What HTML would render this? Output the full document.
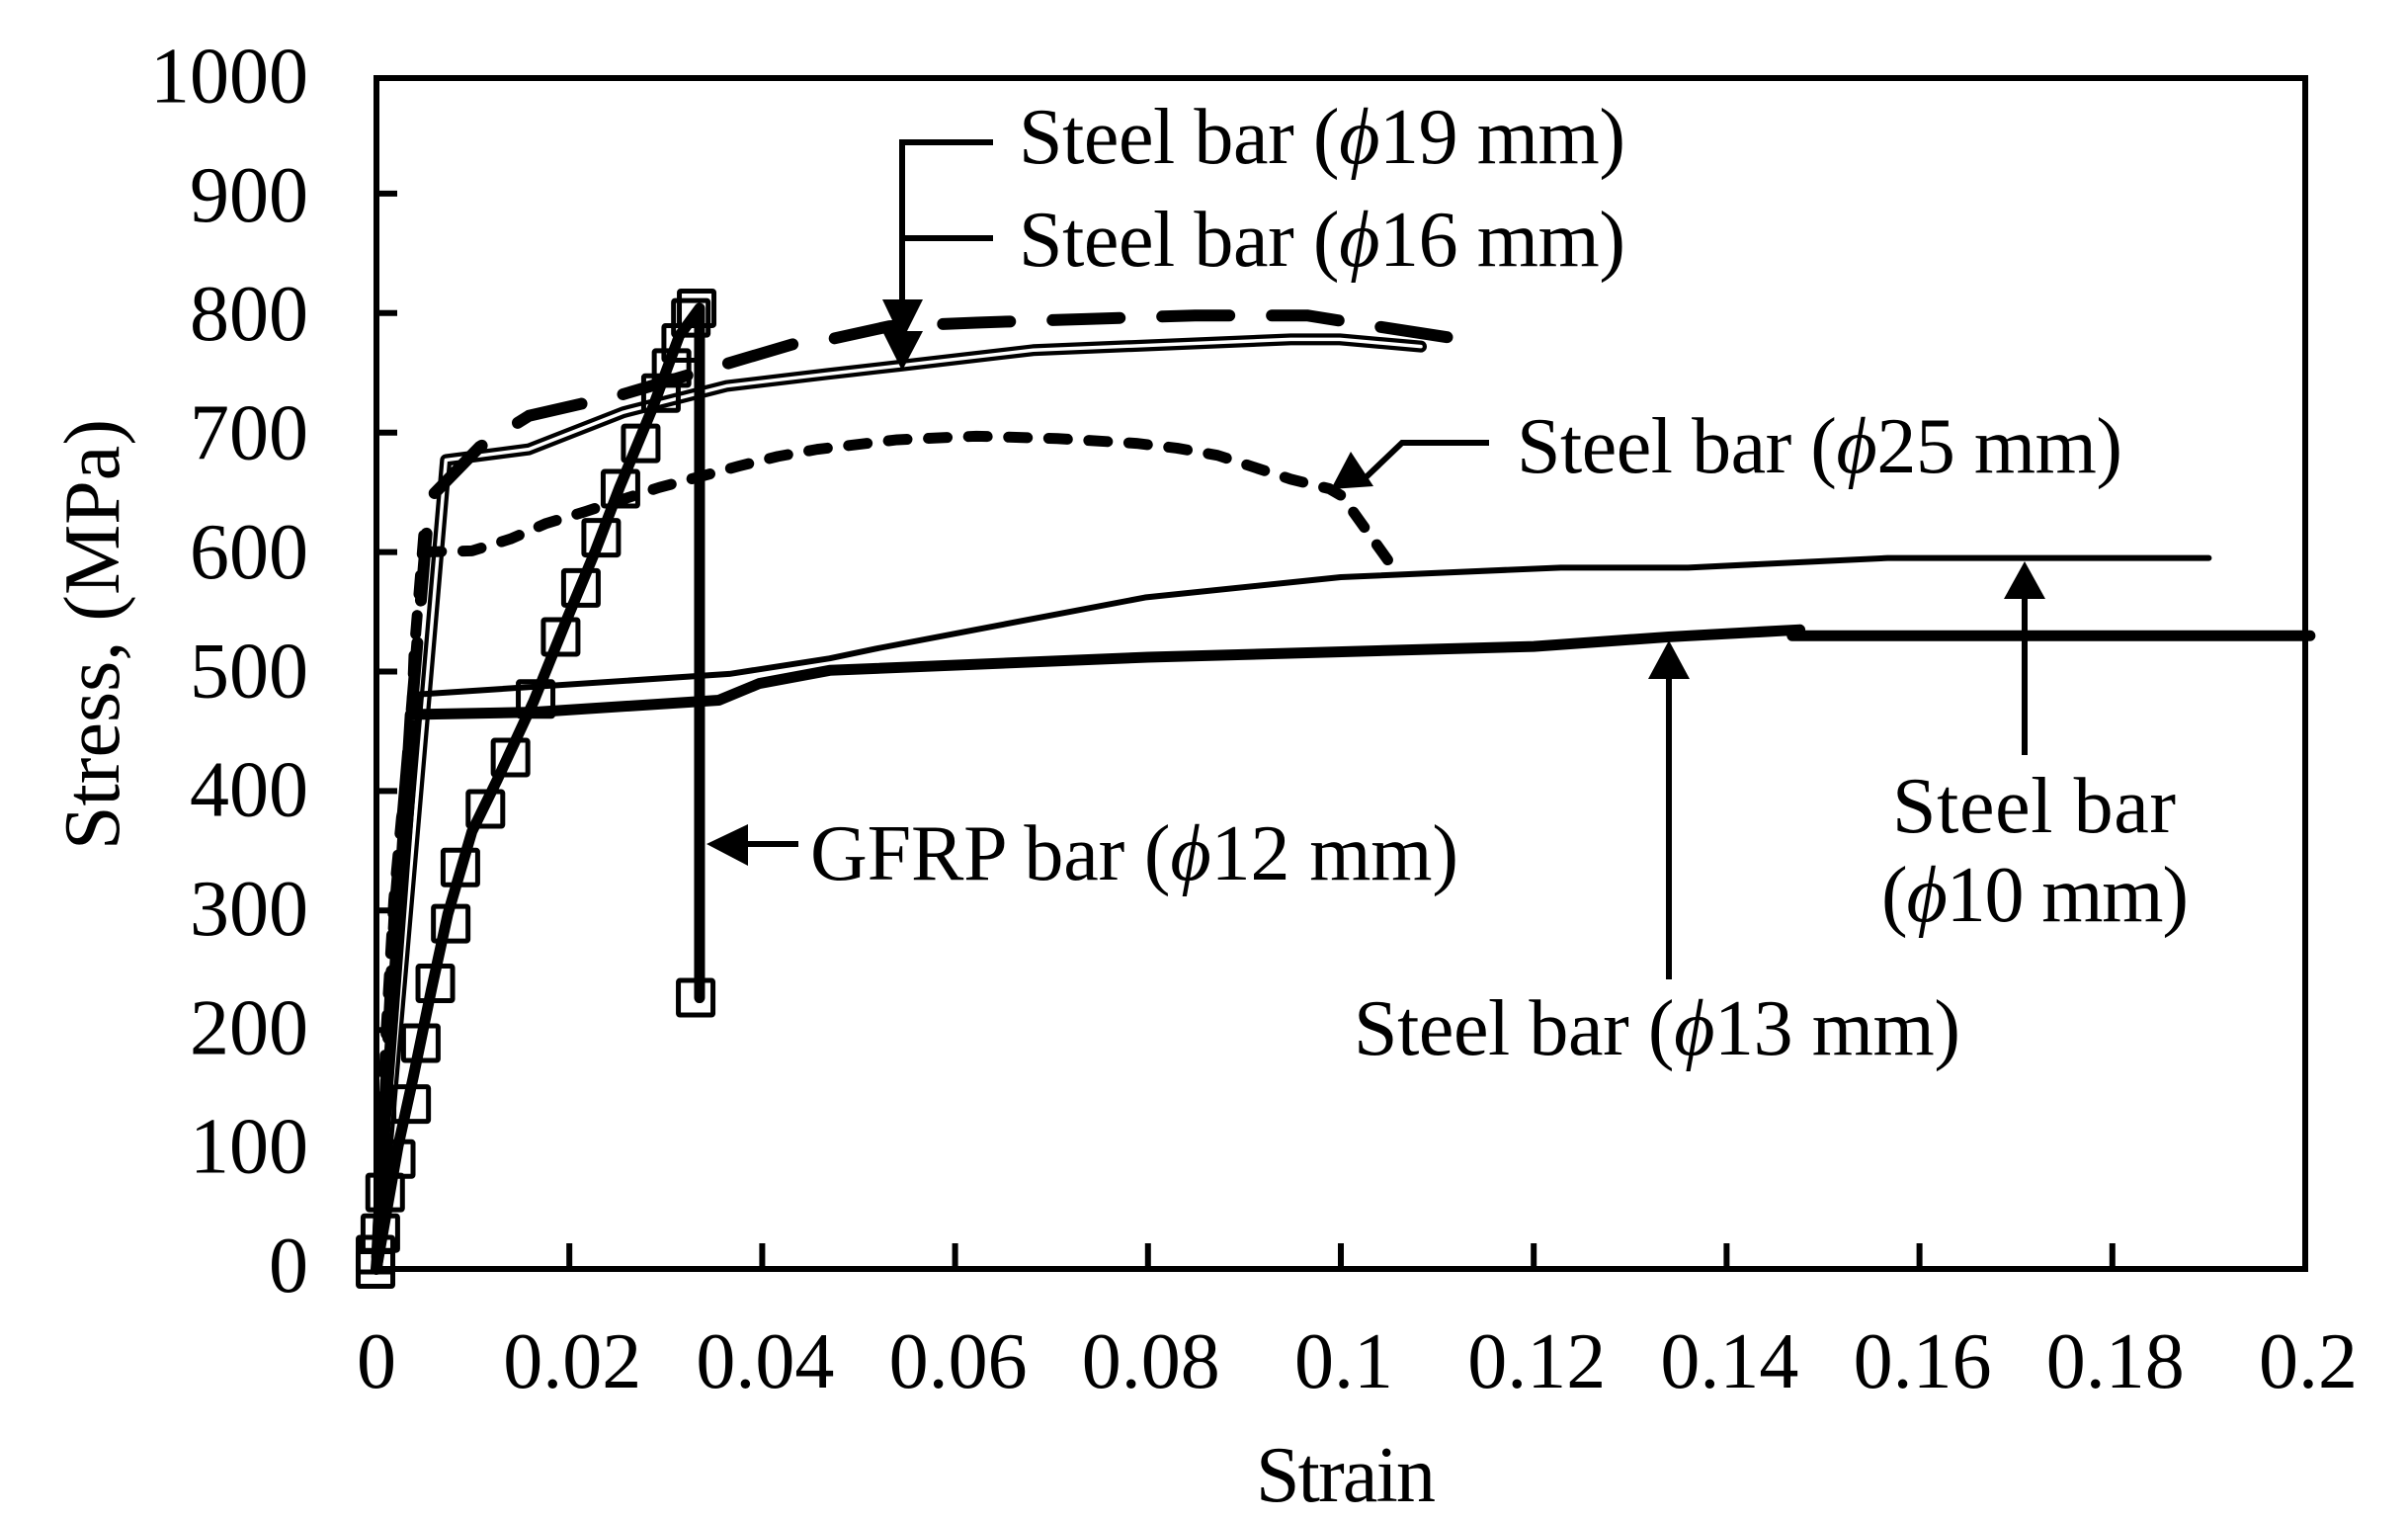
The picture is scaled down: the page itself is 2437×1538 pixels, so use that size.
<!DOCTYPE html>
<html lang="en">
<head>
<meta charset="utf-8">
<title>Stress-strain curves of steel and GFRP bars</title>
<style>
html,body{margin:0;padding:0;background:#fff;}
svg{display:block;}
text{font-family:"Liberation Serif","DejaVu Serif",serif;fill:#000;}
</style>
</head>
<body>
<svg id="chart" xmlns="http://www.w3.org/2000/svg" width="2437" height="1538" viewBox="0 0 2437 1538">
  <rect x="0" y="0" width="2437" height="1538" fill="#fff"/>
  <g id="series"></g>
  <rect x="381" y="79" width="1952" height="1205" fill="none" stroke="#000" stroke-width="6"/>
  <g id="axes"></g>

  <text x="1271" y="1519" font-size="80" textLength="182" lengthAdjust="spacing">Strain</text>
  <text transform="translate(120,860) rotate(-90)" x="0" y="0" font-size="80" textLength="436" lengthAdjust="spacing">Stress, (MPa)</text>

  <g>
    <path d="M1005 144 H913 V310" fill="none" stroke="#000" stroke-width="6"/>
    <polygon points="893,303 934,303 913,345" fill="#000"/>
    <text x="1031" y="165" font-size="80" textLength="614" lengthAdjust="spacing">Steel bar (<tspan font-style="italic">ϕ</tspan>19 mm)</text>
  </g>
  <g>
    <path d="M1005 241 H913 V340" fill="none" stroke="#000" stroke-width="6"/>
    <polygon points="893,335 934,335 913,375" fill="#000"/>
    <text x="1031" y="269" font-size="80" textLength="614" lengthAdjust="spacing">Steel bar (<tspan font-style="italic">ϕ</tspan>16 mm)</text>
  </g>
  <g>
    <path d="M1507 448 H1419 L1375 490" fill="none" stroke="#000" stroke-width="6"/>
    <polygon points="1367,457 1390,492 1347,495" fill="#000"/>
    <text x="1535" y="478" font-size="80" textLength="613" lengthAdjust="spacing">Steel bar (<tspan font-style="italic">ϕ</tspan>25 mm)</text>
  </g>
  <g>
    <path d="M808 854 H750" fill="none" stroke="#000" stroke-width="6"/>
    <polygon points="715,854 757,834 757,876" fill="#000"/>
    <text x="820" y="890" font-size="80" textLength="656" lengthAdjust="spacing">GFRP bar (<tspan font-style="italic">ϕ</tspan>12 mm)</text>
  </g>
  <g>
    <path d="M1689 991 V680" fill="none" stroke="#000" stroke-width="6"/>
    <polygon points="1689,648 1668,687 1710,687" fill="#000"/>
    <text x="1370" y="1067" font-size="80" textLength="614" lengthAdjust="spacing">Steel bar (<tspan font-style="italic">ϕ</tspan>13 mm)</text>
  </g>
  <g>
    <path d="M2049 764 V600" fill="none" stroke="#000" stroke-width="6"/>
    <polygon points="2049,568 2028,606 2070,606" fill="#000"/>
    <text x="1915" y="842" font-size="80" textLength="287" lengthAdjust="spacing">Steel bar</text>
    <text x="1904" y="932" font-size="80" textLength="311" lengthAdjust="spacing">(<tspan font-style="italic">ϕ</tspan>10 mm)</text>
  </g>
</svg>
<script>
var xTicks = [0, 0.02, 0.04, 0.06, 0.08, 0.1, 0.12, 0.14, 0.16, 0.18, 0.2];
var yTicks = [0, 100, 200, 300, 400, 500, 600, 700, 800, 900, 1000];

var strain10 = [0, 0.0045, 0.0366, 0.047, 0.0517, 0.0797, 0.1, 0.1228, 0.136, 0.1567, 0.19];
var stress10 = [0, 481, 498, 511, 519, 562, 579, 587, 587, 595, 595];

var strain13 = [0, 0.0035, 0.0163, 0.0355, 0.0397, 0.047, 0.08, 0.12, 0.134, 0.1476, 0.1468, 0.2005];
var stress13 = [0, 464, 466, 476, 490, 501, 512, 521, 529, 535, 530, 530];

var strain16 = [0, 0.0072, 0.0158, 0.0256, 0.0363, 0.0467, 0.0543, 0.0681, 0.0948, 0.0999, 0.1083];
var stress16 = [0, 677, 686, 717, 739, 749, 756, 769, 778, 778, 772];

var strain19 = [0, 0.0019, 0.0055, 0.0107, 0.0158, 0.0212, 0.0247, 0.0432, 0.047, 0.0532, 0.0622, 0.0735, 0.0849, 0.0965, 0.1004, 0.1117];
var stress19 = [0, 300, 645, 688, 714, 724, 730, 774, 778, 789, 792, 795, 798, 798, 793, 779];

var strain25 = [0, 0.001, 0.0018, 0.0026, 0.0034, 0.0039, 0.0049, 0.0044, 0.0099, 0.0139, 0.0176, 0.0217, 0.0293, 0.0335, 0.0376, 0.0416, 0.0457, 0.054, 0.0622, 0.0706, 0.0788, 0.083, 0.0872, 0.0948, 0.0988, 0.1001, 0.1049];
var stress25 = [0, 199, 309, 378, 411, 515, 614, 600, 601, 611, 624, 634, 654, 663, 672, 680, 686, 694, 697, 695, 691, 687, 681, 661, 653, 647, 593];

var strainGfrpLine = [0, 0.00225, 0.0038, 0.0057, 0.0074, 0.0099, 0.0125, 0.0163, 0.0197, 0.0227, 0.0252, 0.0286, 0.0314, 0.0335, 0.0335];
var stressGfrpLine = [0, 103, 160, 234, 297, 366, 409, 475, 543, 601, 654, 720, 781, 804, 227];

var strainGfrpMarks = [-0.0001, -0.0001, 0.0004, 0.0009, 0.002, 0.0036, 0.0046, 0.0061, 0.0077, 0.0087, 0.0113, 0.0139, 0.0165, 0.0191, 0.0212, 0.0233, 0.0253, 0.0274, 0.0295, 0.0306, 0.0316, 0.0326, 0.0332, 0.0331];
var stressGfrpMarks = [0, 12, 30, 64, 92, 138, 189, 239, 289, 336, 385, 428, 477, 529, 570, 612, 653, 691, 733, 754, 775, 796, 804, 227];

var NS = 'http://www.w3.org/2000/svg';
var seriesLayer = document.getElementById('series');
var axesLayer = document.getElementById('axes');

function xScale(v) { return 381 + v * 9760; }
function yScale(v) { return 1284 - v * 1.209; }
function yLabelBaseline(v) { return 1307 - v * 1.2035; }

function make(tag, parent, attrs, text) {
  var el = document.createElementNS(NS, tag);
  for (var k in attrs) { el.setAttribute(k, attrs[k]); }
  if (text !== undefined) { el.textContent = text; }
  parent.appendChild(el);
  return el;
}

function pathFrom(xs, ys) {
  var d = '';
  for (var i = 0; i < xs.length; i++) {
    d += (i ? ' L' : 'M') + xScale(xs[i]).toFixed(2) + ' ' + yScale(ys[i]).toFixed(2);
  }
  return d;
}

function drawLine(xs, ys, name, width, color, dash, dashOffset) {
  var attrs = { d: pathFrom(xs, ys), fill: 'none', stroke: color, 'stroke-width': width, 'stroke-linejoin': 'round', 'stroke-linecap': 'round' };
  if (dash) { attrs['stroke-dasharray'] = dash; attrs['stroke-dashoffset'] = dashOffset; }
  var el = make('path', seriesLayer, attrs);
  
  
  return el;
}

drawLine(strain16, stress16, 'series-steel-16-outer', 12, '#000');
drawLine(strain16, stress16, 'series-steel-16-inner', 3.5, '#fff');
drawLine(strain10, stress10, 'series-steel-10', 6, '#000');
drawLine(strain13, stress13, 'series-steel-13', 11, '#000');
drawLine(strain25, stress25, 'series-steel-25', 11, '#000', '19 21.6', -35.1);
drawLine(strain19, stress19, 'series-steel-19', 12, '#000', '68 43', -12);
drawLine(strainGfrpLine, stressGfrpLine, 'series-gfrp-12', 11, '#000');

strainGfrpMarks.forEach(function (e, i) {
  var cx = xScale(e);
  var cy = yScale(stressGfrpMarks[i]);
  var m = make('rect', seriesLayer, { x: cx - 17.5, y: cy - 17.5, width: 35, height: 35, rx: 1.5, fill: 'none', stroke: '#000', 'stroke-width': 5 });
  
  
});

xTicks.forEach(function (v, i) {
  var x = xScale(v);
  if (i > 0 && i < xTicks.length - 1) {
    var t = make('line', axesLayer, { x1: x, x2: x, y1: 1284, y2: 1258, stroke: '#000', 'stroke-width': 6 });
    
    
  }
  var l = make('text', axesLayer, { x: i === 0 ? x : x + 3, y: 1404, 'font-size': 80, 'text-anchor': 'middle' }, String(v));
  
  
});

yTicks.forEach(function (v, i) {
  var y = yScale(v);
  if (i > 0 && i < yTicks.length - 1) {
    var t = make('line', axesLayer, { x1: 381, x2: 402, y1: y, y2: y, stroke: '#000', 'stroke-width': 6 });
    
    
  }
  var l = make('text', axesLayer, { x: 312, y: yLabelBaseline(v), 'font-size': 80, 'text-anchor': 'end' }, String(v));
  
  
});
</script>
</body>
</html>
